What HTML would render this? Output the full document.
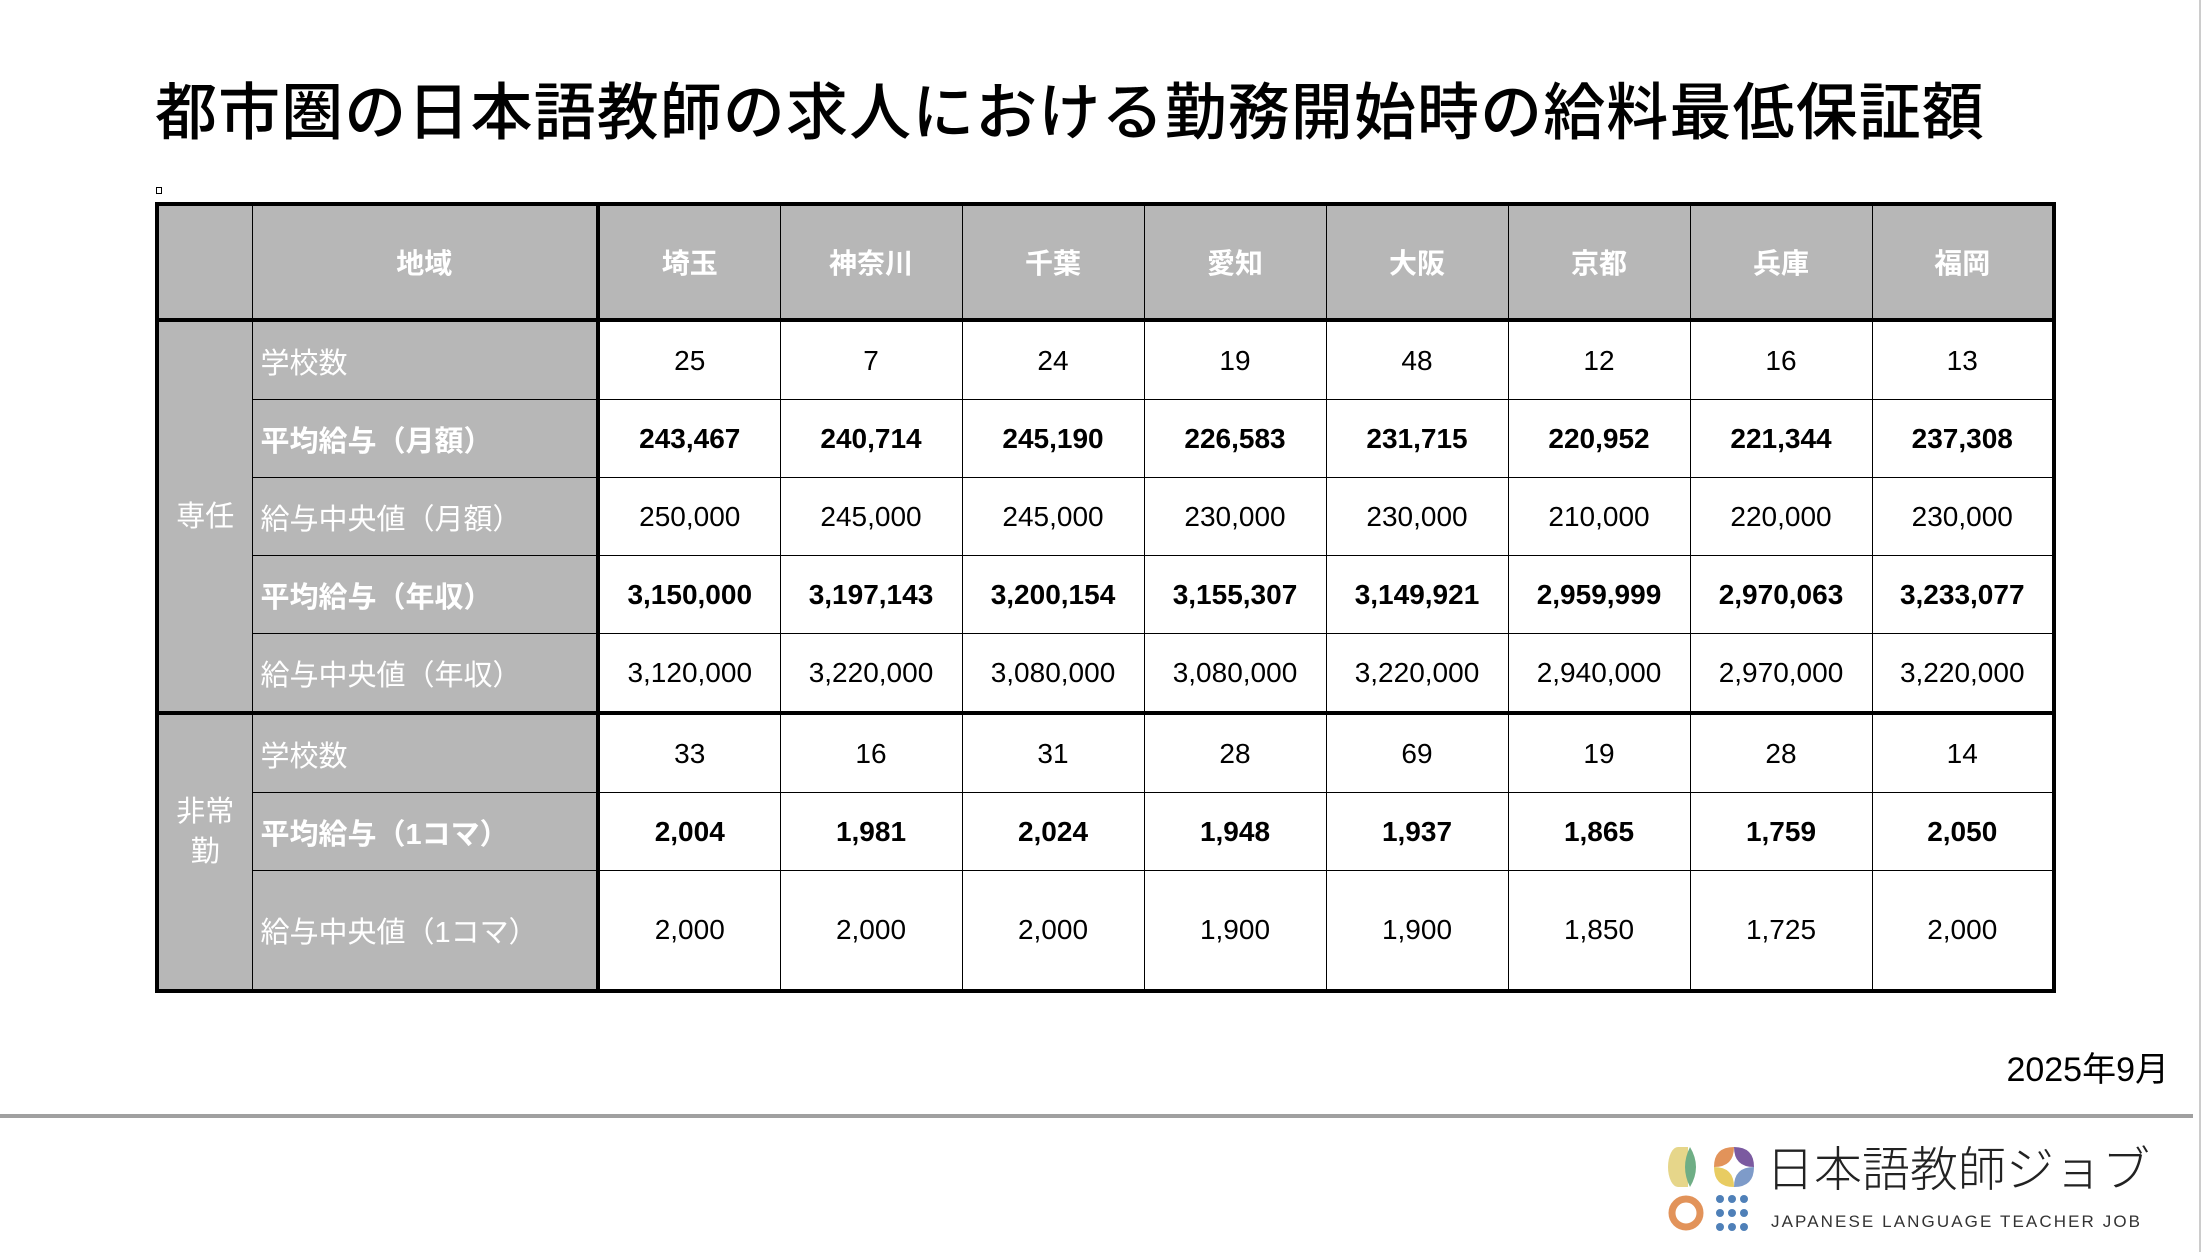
<!DOCTYPE html>
<html><head><meta charset="utf-8">
<style>
body{margin:0;width:2204px;height:1252px;background:#fff;position:relative;overflow:hidden;font-family:"Liberation Sans","Noto Sans CJK JP",sans-serif;}
.title{position:absolute;left:155px;top:62px;font-size:62px;letter-spacing:1.1px;white-space:nowrap;color:#000;font-weight:500;}
table{position:absolute;left:155px;top:202px;border-collapse:collapse;table-layout:fixed;}
td{border:1.5px solid #000;padding:0;font-size:28px;text-align:center;height:77px;}
.h td{height:112px;background:#b7b7b7;color:#fff;font-weight:bold;}
.g{background:#b7b7b7;color:#fff;font-size:29px;line-height:40px;}
.l{background:#b7b7b7;color:#fff;text-align:left;padding-left:8px;font-size:29px;}
.b td{font-weight:bold;}
.tt td{border-top:4px solid #000;}
.sep{border-right:4px solid #000;}
</style></head><body>
<div class="title">都市圏の日本語教師の求人における勤務開始時の給料最低保証額</div>
<div style="position:absolute;left:156px;top:187px;width:4px;height:5px;border:1px solid #000"></div>
<table style="border:4px solid #000">
<colgroup><col style="width:95px"><col style="width:346px"><col span="8" style="width:182px"></colgroup>
<tr class="h"><td></td><td class="sep">地域</td><td>埼玉</td><td>神奈川</td><td>千葉</td><td>愛知</td><td>大阪</td><td>京都</td><td>兵庫</td><td>福岡</td></tr>
<tr class="tt"><td class="g" rowspan="5">専任</td><td class="l sep">学校数</td><td>25</td><td>7</td><td>24</td><td>19</td><td>48</td><td>12</td><td>16</td><td>13</td></tr>
<tr class="b"><td class="l sep">平均給与（月額）</td><td>243,467</td><td>240,714</td><td>245,190</td><td>226,583</td><td>231,715</td><td>220,952</td><td>221,344</td><td>237,308</td></tr>
<tr><td class="l sep">給与中央値（月額）</td><td>250,000</td><td>245,000</td><td>245,000</td><td>230,000</td><td>230,000</td><td>210,000</td><td>220,000</td><td>230,000</td></tr>
<tr class="b"><td class="l sep">平均給与（年収）</td><td>3,150,000</td><td>3,197,143</td><td>3,200,154</td><td>3,155,307</td><td>3,149,921</td><td>2,959,999</td><td>2,970,063</td><td>3,233,077</td></tr>
<tr><td class="l sep">給与中央値（年収）</td><td>3,120,000</td><td>3,220,000</td><td>3,080,000</td><td>3,080,000</td><td>3,220,000</td><td>2,940,000</td><td>2,970,000</td><td>3,220,000</td></tr>
<tr class="tt"><td class="g" rowspan="3"><div style="margin-top:-40px">非常<br>勤</div></td><td class="l sep">学校数</td><td>33</td><td>16</td><td>31</td><td>28</td><td>69</td><td>19</td><td>28</td><td>14</td></tr>
<tr class="b"><td class="l sep">平均給与（1コマ）</td><td>2,004</td><td>1,981</td><td>2,024</td><td>1,948</td><td>1,937</td><td>1,865</td><td>1,759</td><td>2,050</td></tr>
<tr><td class="l sep" style="height:118px">給与中央値（1コマ）</td><td>2,000</td><td>2,000</td><td>2,000</td><td>1,900</td><td>1,900</td><td>1,850</td><td>1,725</td><td>2,000</td></tr>
</table>
<div style="position:absolute;right:35px;top:1042px;font-size:34px;">2025年9月</div>
<div style="position:absolute;left:0;top:1114px;width:2193px;height:4px;background:#a0a0a0"></div>
<div style="position:absolute;left:2199px;top:0;width:2px;height:1252px;background:#ccc"></div>
<svg style="position:absolute;left:1668px;top:1143px" width="90" height="92" viewBox="0 0 90 92">
<ellipse cx="10" cy="24" rx="10" ry="20" fill="#e6d68a"/>
<rect x="10" y="4" width="10" height="40" fill="#e6d68a"/>
<path d="M22 4 Q12 24 22 44 Q34 24 22 4Z" fill="#6fae85"/>
<path d="M46 24 Q66 24 66 4 Q46 4 46 24Z" fill="#e2935a"/>
<path d="M66 4 Q66 24 86 24 Q86 4 66 4Z" fill="#7b5aa0"/>
<path d="M86 24 Q66 24 66 44 Q86 44 86 24Z" fill="#7e9bc9"/>
<path d="M66 44 Q66 24 46 24 Q46 44 66 44Z" fill="#e8cc62"/>
<circle cx="18" cy="70" r="14" fill="none" stroke="#e2935a" stroke-width="7"/>
<g fill="#4f80b8"><circle cx="52" cy="56" r="4"/><circle cx="64" cy="56" r="4"/><circle cx="76" cy="56" r="4"/><circle cx="52" cy="70" r="4"/><circle cx="64" cy="70" r="4"/><circle cx="76" cy="70" r="4"/><circle cx="52" cy="84" r="4"/><circle cx="64" cy="84" r="4"/><circle cx="76" cy="84" r="4"/></g>
</svg>
<div style="position:absolute;left:1766px;top:1130px;font-size:48px;letter-spacing:0px;color:#222;font-weight:300;">日本語教師ジョブ</div>
<div style="position:absolute;left:1771px;top:1212px;font-size:17px;letter-spacing:2.1px;color:#333;">JAPANESE LANGUAGE TEACHER JOB</div>
</body></html>
